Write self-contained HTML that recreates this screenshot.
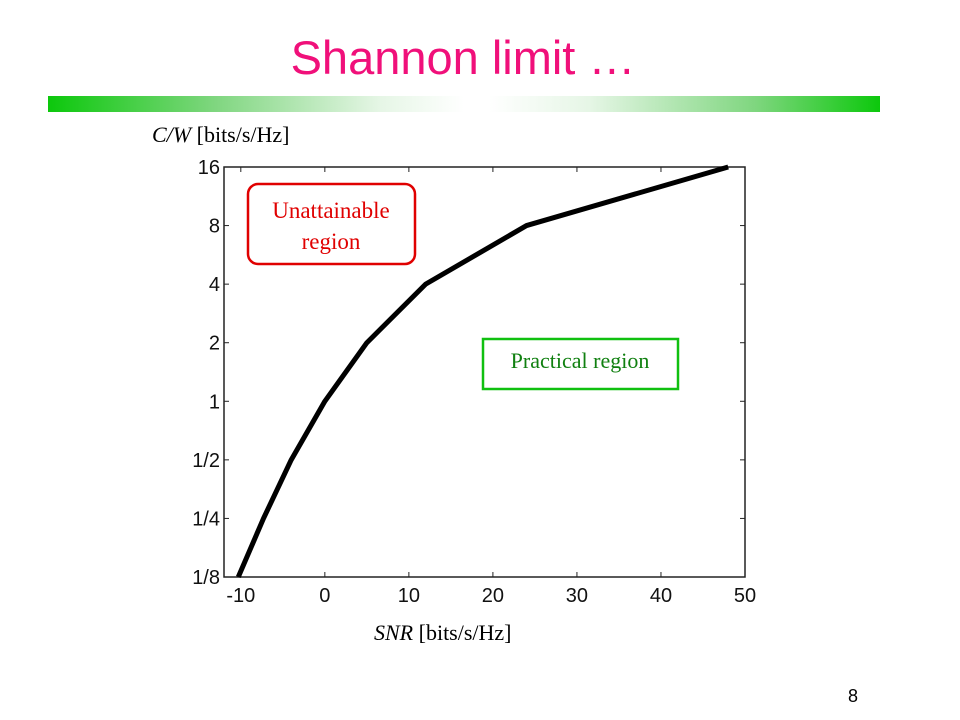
<!DOCTYPE html>
<html><head><meta charset="utf-8"><style>
body{margin:0;background:#fff;}
#s{position:relative;width:960px;height:720px;overflow:hidden;background:#fff;font-family:"Liberation Sans",sans-serif;}
</style></head><body>
<div id="s">
<div style="position:absolute;left:0;width:926px;top:30px;text-align:center;font-size:47px;color:#f0107a;">Shannon limit …</div>
<div style="position:absolute;left:48px;top:96px;width:832px;height:16px;background:linear-gradient(to right,#0cc80c 0%,#7fd67f 20%,#e6f6e6 40%,#fff 50%,#fff 53%,#e6f6e6 65%,#7fd67f 85%,#0cc80c 100%);"></div>
<div style="position:absolute;left:848px;top:686px;font-size:18px;">8</div>
<svg id="chart" width="960" height="720" style="position:absolute;left:0;top:0" font-family="Liberation Sans, sans-serif"></svg>
</div>
<script>
const snrValues=[-10.3,-7.3,-4,0,5,12,24,48];
const capValues=[0.125,0.25,0.5,1,2,4,8,16];
const xTicks=[-10,0,10,20,30,40,50];
const yTicks=[0.125,0.25,0.5,1,2,4,8,16];
const yTickLabels=["1/8","1/4","1/2","1","2","4","8","16"];
const NS="http://www.w3.org/2000/svg";
const svg=document.getElementById('chart');
const L=224,R=745,T=167,B=577;
const xMin=-12,xMax=50,yMin=0.125,yMax=16;
function sx(v){return L+(v-xMin)/(xMax-xMin)*(R-L);}
function sy(v){return B-(Math.log2(v)-Math.log2(yMin))/(Math.log2(yMax)-Math.log2(yMin))*(B-T);}
function mk(t,a){const e=document.createElementNS(NS,t);for(const k in a)e.setAttribute(k,a[k]);svg.appendChild(e);return e;}
let e=mk('rect',{x:L,y:T,width:R-L,height:B-T,fill:'none',stroke:'#222','stroke-width':1.5});


xTicks.forEach(v=>{const x=sx(v);
 let t=mk('line',{x1:x,x2:x,y1:B,y2:B-5,stroke:'#222'});
 
 
 t=mk('line',{x1:x,x2:x,y1:T,y2:T+5,stroke:'#222'});
 
 
 const l=mk('text',{x:x,y:B+25,'text-anchor':'middle','font-size':20,fill:'#111'});l.textContent=v;
 
 
});
yTicks.forEach((v,i)=>{const y=sy(v);
 let t=mk('line',{x1:L,x2:L+5,y1:y,y2:y,stroke:'#222'});
 
 
 t=mk('line',{x1:R,x2:R-5,y1:y,y2:y,stroke:'#222'});
 
 
 const l=mk('text',{x:L-4,y:y+7,'text-anchor':'end','font-size':20,fill:'#111'});l.textContent=yTickLabels[i];
 
 
});
const p=mk('polyline',{points:snrValues.map((v,i)=>sx(v)+','+sy(capValues[i])).join(' '),fill:'none',stroke:'#000','stroke-width':5,'stroke-linejoin':'round'});


let yl=mk('text',{x:152,y:142,'font-size':22,'font-family':'Liberation Serif, serif',fill:'#000'});
yl.innerHTML='<tspan font-style="italic">C/W</tspan> [bits/s/Hz]';


let xl=mk('text',{x:374,y:640,'font-size':22,'font-family':'Liberation Serif, serif',fill:'#000'});
xl.innerHTML='<tspan font-style="italic">SNR</tspan> [bits/s/Hz]';


let b=mk('rect',{x:248,y:184,width:167,height:80,rx:10,fill:'#fff',stroke:'#e00000','stroke-width':2.5});


let t1=mk('text',{x:331,y:218,'text-anchor':'middle','font-size':23,'font-family':'Liberation Serif, serif',fill:'#e00000'});t1.textContent='Unattainable';


let t2=mk('text',{x:331,y:249,'text-anchor':'middle','font-size':23,'font-family':'Liberation Serif, serif',fill:'#e00000'});t2.textContent='region';


let g=mk('rect',{x:483,y:339,width:195,height:50,fill:'#fff',stroke:'#10c010','stroke-width':2.5});


let t3=mk('text',{x:580,y:368,'text-anchor':'middle','font-size':22,'font-family':'Liberation Serif, serif',fill:'#108010'});t3.textContent='Practical region';


</script>
</body></html>
